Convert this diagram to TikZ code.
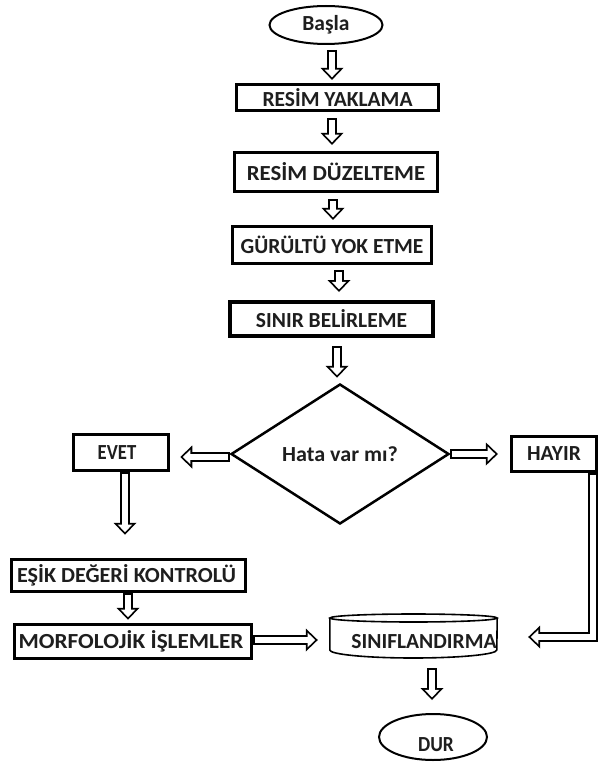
\documentclass[tikz,border=0pt]{standalone}
\usepackage{fontspec}
\setmainfont{Carlito}
\usetikzlibrary{arrows.meta,calc,shapes.geometric}
\definecolor{txt}{RGB}{30,30,30}
\newcommand{\hollowconn}[1]{\draw[hollowout] #1; \draw[hollowin] #1;}
\newcommand{\strx}[1]{\addfontfeature{FakeStretch=#1}}
\begin{document}
\begin{tikzpicture}[x=1pt,y=-1pt,
  every node/.style={font=\bfseries\fontsize{21.5}{25}\selectfont, text=txt, inner sep=0pt},
  box/.style={draw=black, line width=3.2pt, rectangle},
  oval/.style={draw=black, line width=2pt, ellipse},
  hollowout/.style={draw=black, line width=9.5pt, line join=miter,
    -{Triangle[length=12pt,width=23pt,line width=0pt]}},
  hollowin/.style={draw=white, line width=5.9pt, line join=miter,
    shorten <=1.8pt, shorten >=2.6pt,
    -{Triangle[length=7.6pt,width=14.6pt,line width=0pt]}},
]
\useasboundingbox (0,0) rectangle (600,773);
\fill[white] (0,0) rectangle (600,773);

% nodes
\node[oval, minimum width=113pt, minimum height=38pt] (start) at (326,25) {Başla};
\node[box, minimum width=202pt, minimum height=26pt] (b1) at (337.5,97.5) {RESİM YAKLAMA};
\node[box, minimum width=203pt, minimum height=39pt] (b2) at (336,172) {\strx{1.06}RESİM DÜZELTEME};
\node[box, minimum width=199pt, minimum height=37pt] (b3) at (332,245) {GÜRÜLTÜ YOK ETME};
\node[box, line width=4pt, minimum width=203pt, minimum height=34pt] (b4) at (331.5,319) {SINIR BELİRLEME};
\node[diamond, draw=black, line width=2.5pt, aspect=1.55, minimum width=218pt, minimum height=140pt] (dec) at (340,454) {\strx{1.03}Hata var mı?};
\node[box, line width=3.5pt, minimum width=95pt, minimum height=36pt] (evet) at (121,452.5) {\strx{0.87}EVET\hspace*{8pt}};
\node[box, minimum width=85pt, minimum height=35pt] (hayir) at (554,454) {HAYIR};
\node[box, line width=3.5pt, minimum width=234pt, minimum height=32pt] (esik) at (128.5,575.5) {\strx{1.03}EŞİK DEĞERİ KONTROLÜ\hspace*{4pt}};
\node[box, line width=3.5pt, minimum width=237pt, minimum height=34pt] (morf) at (133,641.5) {\strx{1.08}MORFOLOJİK İŞLEMLER\hspace*{4pt}};
\node[minimum width=167pt, minimum height=43pt] (sinif) at (413.5,636.5) {};
\node (siniftext) at (424,642) {SINIFLANDIRMA};
\node[oval, minimum width=108pt, minimum height=46pt] (dur) at (433,737) {};
\node (durtext) at (436,745) {\strx{0.9}DUR};

% cylinder outline of SINIFLANDIRMA
\draw[line width=1.6pt] (sinif.west |- 0,618) -- (sinif.west |- 0,650)
  arc[start angle=180, end angle=360, x radius=83.5pt, y radius=8pt]
  -- (sinif.east |- 0,618);
\draw[line width=1.6pt] (413.5,618) ellipse[x radius=83.5pt, y radius=4pt];

% x positions of the vertical connectors
\coordinate (x1) at (332,0);
\coordinate (x2) at (332,0);
\coordinate (x3) at (333,0);
\coordinate (x4) at (339,0);
\coordinate (x5) at (337,0);
\coordinate (x8) at (125,0);
\coordinate (x9) at (128,0);
\coordinate (x11) at (593,0);
\coordinate (x12) at (432,0);

% connectors
\hollowconn{($(start.south -| x1)+(0,5)$) -- ($(b1.north -| x1)+(0,-3)$)}
\hollowconn{($(b1.south -| x2)+(0,6)$) -- ($(b2.north -| x2)+(0,-6)$)}
\hollowconn{($(b2.south -| x3)+(0,6)$) -- ($(b3.north -| x3)+(0,-5)$)}
\hollowconn{($(b3.south -| x4)+(0,5)$) -- ($(b4.north -| x4)+(0,-8)$)}
\hollowconn{($(b4.south -| x5)+(0,8)$) -- ($(dec.north -| x5)+(0,-5)$)}
\hollowconn{($(dec.west)+(0,3)$) -- ($(evet.east |- dec.west)+(10,3)$)}
\hollowconn{(dec.east) -- ($(hayir.west |- dec.east)+(-12,0)$)}
\hollowconn{(evet.south -| x8) -- ($(esik.north -| x8)+(0,-23)$)}
\hollowconn{(esik.south -| x9) -- ($(morf.north -| x9)+(0,-3)$)}
\hollowconn{($(morf.east)+(0,-1.5)$) -- ($(sinif.west |- morf.east)+(-12,-1.5)$)}
\hollowconn{(hayir.south -| x11) |- ($(sinif.east)+(31,0.5)$)}
\hollowconn{($(sinif.south -| x12)+(0,10)$) -- ($(dur.north -| x12)+(0,-13)$)}
\end{tikzpicture}
\end{document}
